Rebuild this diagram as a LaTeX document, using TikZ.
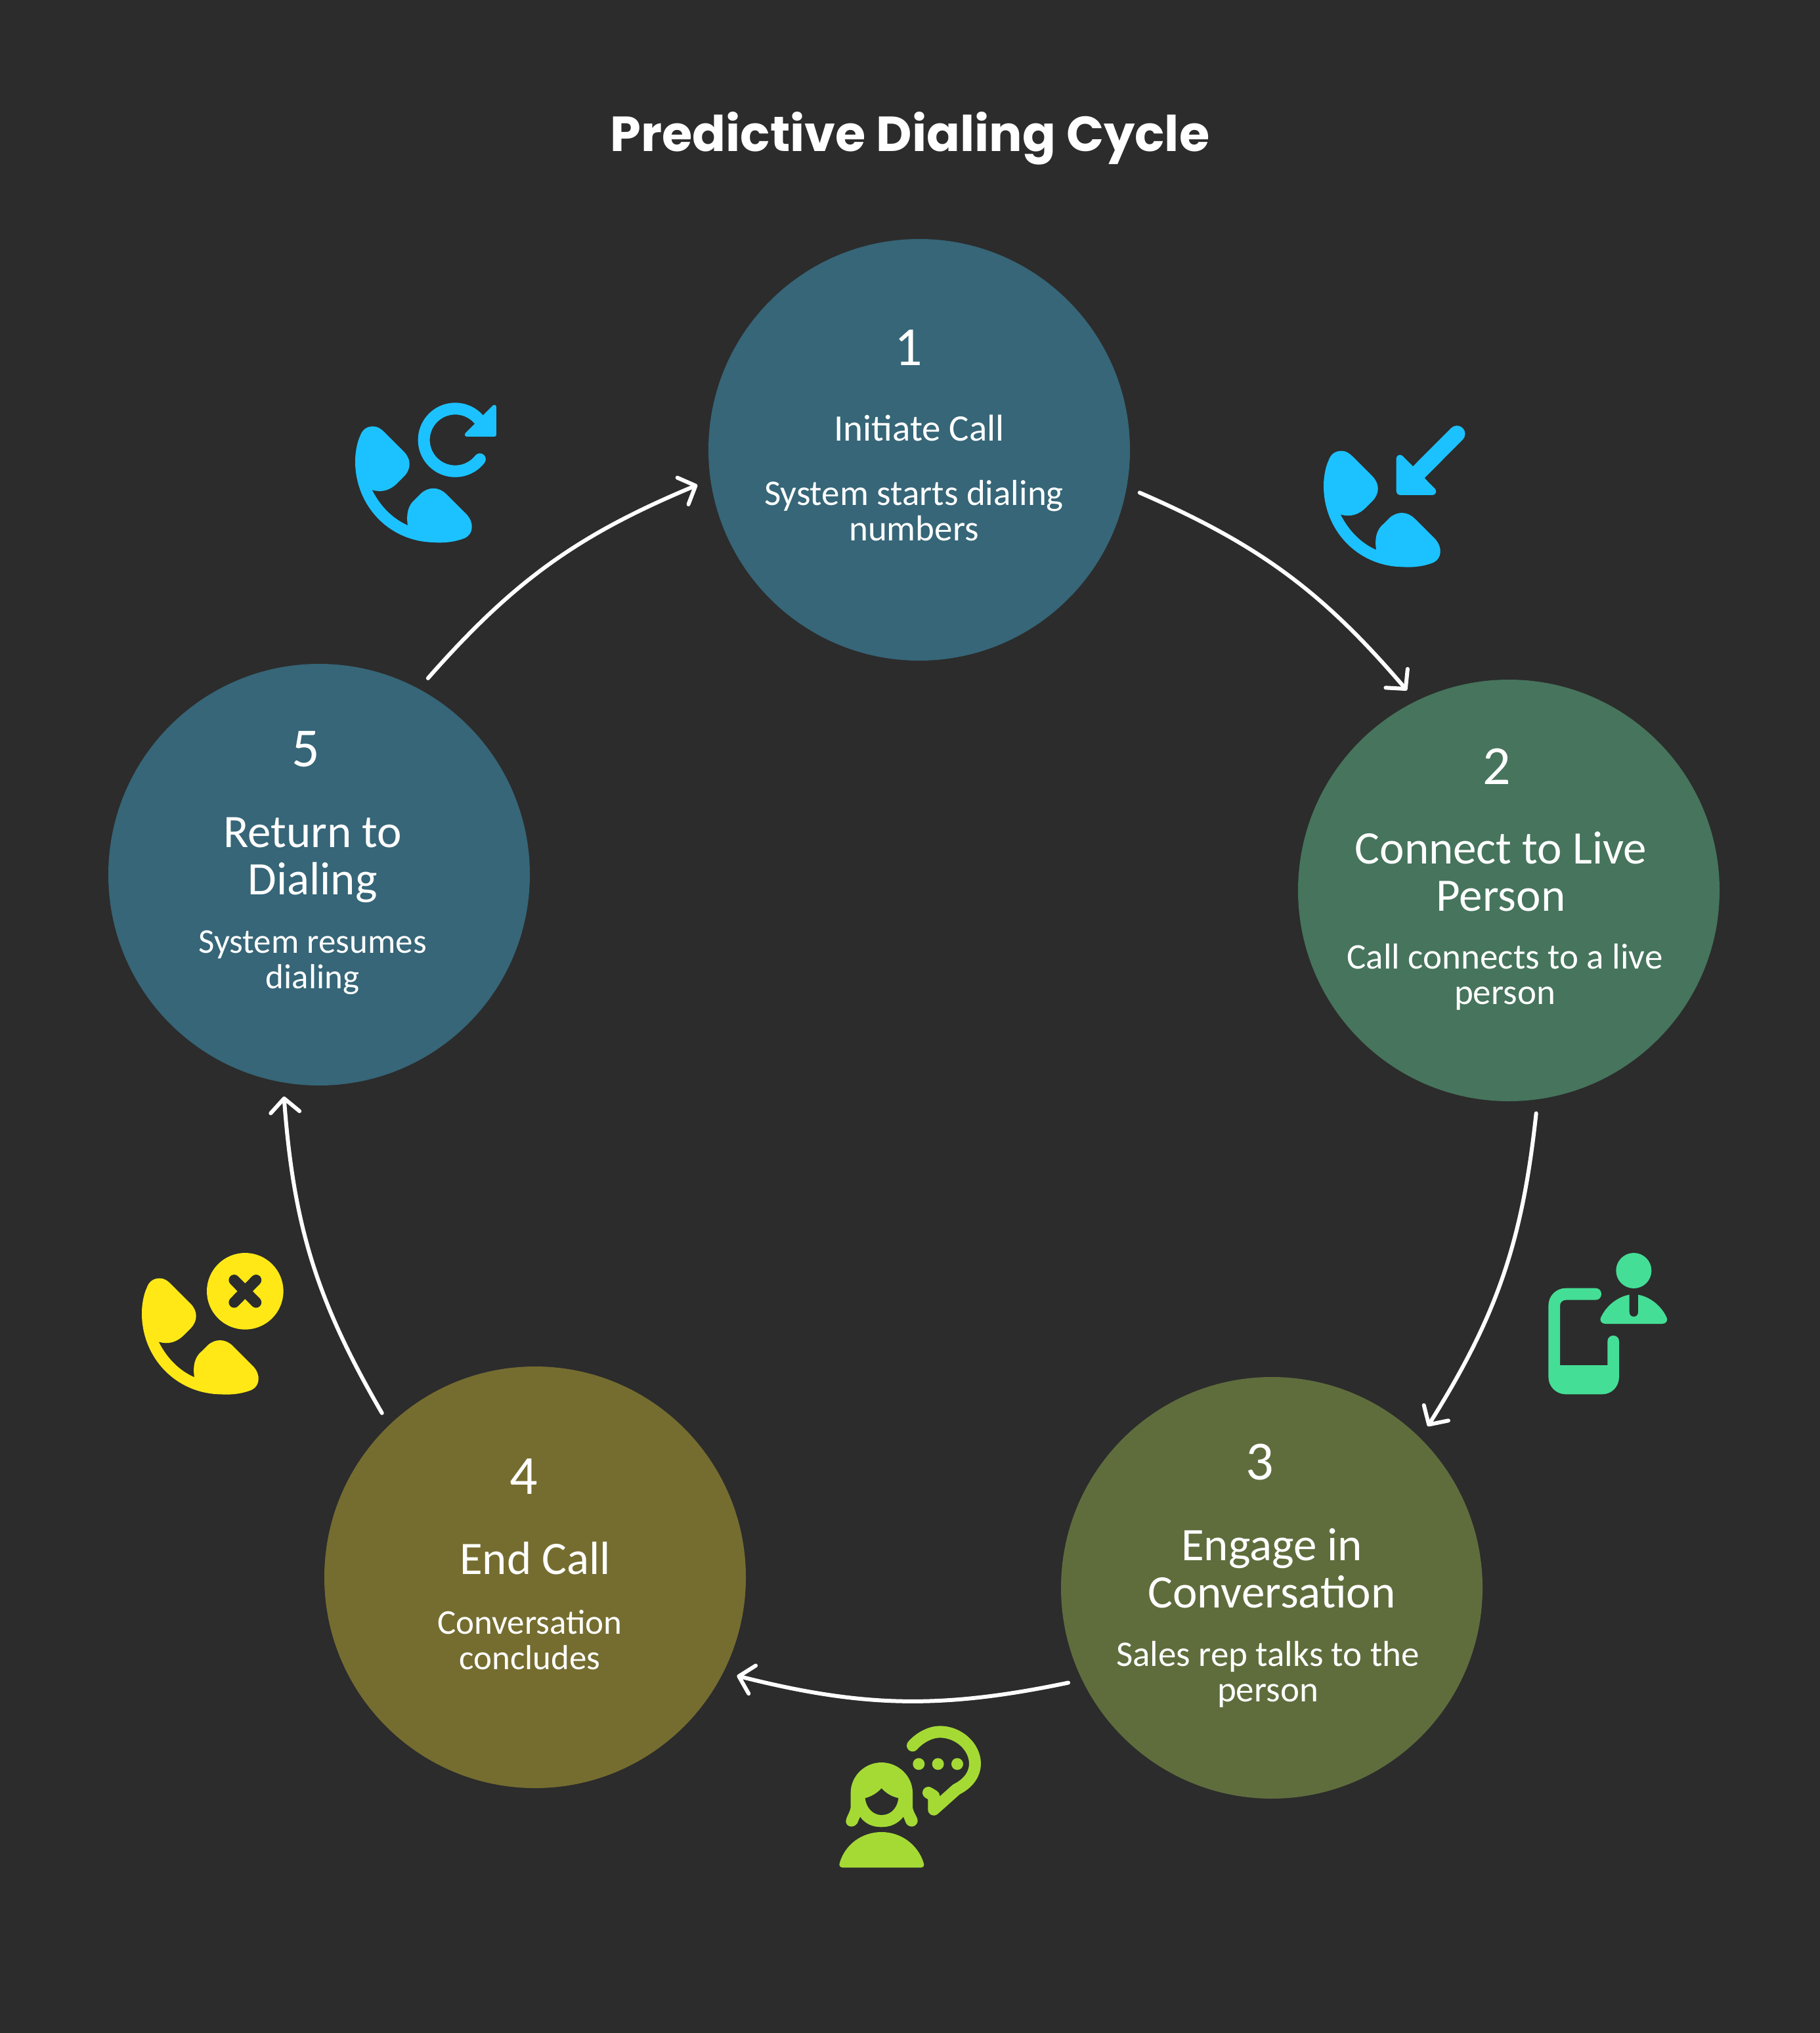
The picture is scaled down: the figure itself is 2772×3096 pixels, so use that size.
\documentclass[tikz,border=0pt]{standalone}
\usepackage{fontspec}
\setmainfont{Carlito}
\newfontfamily\titlefont{Poppins}
\usetikzlibrary{arrows.meta}
\definecolor{bgc}{HTML}{2C2C2C}
\definecolor{cblue}{HTML}{366678}
\definecolor{cgreen}{HTML}{46745C}
\definecolor{colive}{HTML}{5F6D3D}
\definecolor{cgold}{HTML}{756D30}
\definecolor{iblue}{HTML}{1CC2FF}
\definecolor{igreen}{HTML}{45DE96}
\definecolor{ilime}{HTML}{A5DA35}
\definecolor{iyellow}{HTML}{FFE816}
\tikzset{
  stage/.style={circle,minimum size=642pt,inner sep=0pt,outer sep=21pt,fill=#1},
  numtxt/.style={text=white,font=\fontsize{84}{84}\selectfont,inner sep=0pt},
  headtxt/.style={text=white,align=center,font=\fontsize{71}{72}\selectfont,inner sep=0pt},
  smallhead/.style={text=white,align=center,font=\fontsize{57}{54}\selectfont,inner sep=0pt},
  desctxt/.style={text=white,align=center,font=\fontsize{55}{54}\selectfont,inner sep=0pt},
  desctight/.style={text=white,align=center,font=\fontsize{53}{54}\selectfont,inner sep=0pt},
  flow/.style={white,line width=6pt,line cap=round,-{Straight Barb[length=21pt,width=44pt,line width=6pt,round]}},
}
\newcommand{\handset}[1]{%
  \fill[#1] (130,170) .. controls (150,170) and (165,180) .. (180,195) -- (270,285)
   .. controls (305,320) and (305,365) .. (270,400) -- (240,430)
   .. controls (210,460) and (170,475) .. (125,460)
   .. controls (160,530) and (215,590) .. (288,622)
   .. controls (280,570) and (290,530) .. (320,505) -- (350,475)
   .. controls (385,445) and (430,445) .. (465,480) -- (560,575)
   .. controls (590,610) and (590,660) .. (550,680)
   .. controls (500,700) and (450,703) .. (405,700)
   .. controls (200,695) and (48,530) .. (48,330)
   .. controls (48,280) and (60,235) .. (70,215)
   .. controls (80,185) and (100,170) .. (130,170) -- cycle;}
\begin{document}
\begin{tikzpicture}[x=1pt,y=-1pt]
\useasboundingbox (0,0) rectangle (2772,3096);
\fill[bgc] (0,0) rectangle (2772,3096);

\node[text=white,inner sep=0pt,font=\titlefont\bfseries\fontsize{75}{75}\selectfont] (title) at (1386,211) {Predictive Dialing Cycle};

\node[stage=cblue] (c1) at (1400,685) {};
\node[stage=cgreen] (c2) at (2298,1356) {};
\node[stage=colive] (c3) at (1937,2418) {};
\node[stage=cgold] (c4) at (815,2402) {};
\node[stage=cblue] (c5) at (486,1332) {};

\node[numtxt] (n1) at (1384,529) {1};
\node[smallhead] (h1) at (1400,652) {Initiate Call};
\node[desctxt] (d1) at (1392,778) {System starts dialing\\numbers};

\node[numtxt] (n2) at (2280,1167) {2};
\node[headtxt] (h2) at (2286,1327) {Connect to Live\\Person};
\node[desctxt] (d2) at (2292,1488) {Call connects to a live\\person};

\node[numtxt] (n3) at (1919,2227) {3};
\node[headtxt] (h3) at (1937,2388) {Engage in\\Conversation};
\node[desctxt] (d3) at (1931,2550) {Sales rep talks to the\\person};

\node[numtxt] (n4) at (798,2249) {4};
\node[headtxt] (h4) at (815,2373) {End Call};
\node[desctight] (d4) at (807,2497) {Conversation\\concludes};

\node[numtxt] (n5) at (466,1141) {5};
\node[headtxt] (h5) at (476,1310) {Return to\\Dialing};
\node[desctight] (d5) at (476,1466) {System resumes\\dialing};

\draw[flow] (c1.-11) to[bend left=13] (c2.117.3);
\draw[flow] (c2.-83.4) to[bend left=13] (c3.46.5);
\draw[flow] (c3.-155.3) to[bend left=13] (c4.-26.4);
\draw[flow] (c4.133) to[bend left=13] (c5.-99);
\draw[flow] (c5.61.5) to[bend left=13] (c1.189);

% icon above connector 5->1
\begin{scope}[shift={(525,592.67)},x=.3333pt,y=-.3333pt]
  \handset{iblue}
\end{scope}
\begin{scope}[shift={(500,580)},x=.3333pt,y=-.3333pt]
  \draw[iblue,line width=18pt,line cap=round] plot[domain=38:322,samples=50,smooth] ({580+143*cos(\x)},{270+143*sin(\x)});
  \filldraw[iblue,line width=6pt,line join=round] (759,118) -- (759,246) -- (632,246) -- cycle;
\end{scope}

% icon incoming
\begin{scope}[shift={(2000,630)},x=.3333pt,y=-.3333pt]
  \handset{iblue}
\end{scope}
\begin{scope}[shift={(1990,620)},x=.3333pt,y=-.3333pt]
  \draw[iblue,line width=25pt,line cap=round] (687,122) -- (480,330);
  \filldraw[iblue,line width=11.3pt,line join=round] (427,235) -- (427,385) -- (575,385) -- cycle;
\end{scope}

% icon person and phone
\begin{scope}[shift={(2330,1880)},x=.3333pt,y=-.3333pt]
  \fill[igreen] (475,165) circle[radius=27pt];
  \fill[igreen] (345,408) -- (605,408) .. controls (625,408) and (632,390) .. (625,378)
    .. controls (600,325) and (550,285) .. (495,275) -- (495,355)
    .. controls (495,382) and (455,382) .. (455,355) -- (455,275)
    .. controls (400,285) and (350,325) .. (325,378)
    .. controls (318,390) and (325,408) .. (345,408) -- cycle;
  \fill[igreen] (300,245) -- (165,245) .. controls (120,245) and (85,280) .. (85,325)
    -- (85,650) .. controls (85,695) and (120,730) .. (165,730)
    -- (330,730) .. controls (375,730) and (408,695) .. (408,650)
    -- (408,488) .. controls (408,453) and (355,453) .. (355,488)
    -- (355,597) -- (138,597) -- (138,325)
    .. controls (138,310) and (150,299) .. (165,299) -- (300,299)
    .. controls (336,299) and (336,245) .. (300,245) -- cycle;
\end{scope}

% icon woman with speech bubble
\begin{scope}[shift={(1260,2610)},x=.3333pt,y=-.3333pt]
  \fill[ilime] (70,702) -- (428,702) .. controls (440,702) and (445,692) .. (440,680)
    .. controls (415,600) and (340,540) .. (248,540)
    .. controls (155,540) and (80,600) .. (57,680)
    .. controls (52,692) and (58,702) .. (70,702) -- cycle;
  \fill[ilime] (107,360) .. controls (107,285) and (170,222) .. (248,222)
    .. controls (325,222) and (390,285) .. (390,360) -- (390,420)
    .. controls (390,445) and (405,460) .. (412,480)
    .. controls (420,510) and (380,530) .. (360,500) -- (348,470)
    .. controls (320,505) and (285,517) .. (248,517)
    .. controls (210,517) and (175,505) .. (150,470) -- (137,500)
    .. controls (115,530) and (75,510) .. (87,480)
    .. controls (95,455) and (107,445) .. (107,420) -- cycle;
  \fill[bgc] (248,340) .. controls (225,365) and (200,378) .. (173,385)
    .. controls (178,430) and (210,462) .. (248,462)
    .. controls (290,462) and (320,430) .. (325,385)
    .. controls (295,378) and (270,365) .. (248,340) -- cycle;
  \draw[ilime,line width=18pt,line cap=round,line join=round] (390,145)
    .. controls (420,110) and (470,82) .. (515,82)
    .. controls (600,82) and (675,150) .. (675,228)
    .. controls (675,270) and (650,315) .. (590,345)
    -- (487,437) -- (487,375) -- (462,360);
  \fill[ilime] (418,229) circle[radius=9pt] (506,229) circle[radius=9pt] (594,229) circle[radius=9pt];
\end{scope}

% icon end call
\begin{scope}[shift={(200,1890)},x=.3333pt,y=-.3333pt]
  \handset{iyellow}
  \fill[iyellow] (520,229) circle[radius=58.3pt];
  \draw[bgc,line width=16.5pt,line cap=round] (470,178) -- (570,280) (570,178) -- (470,280);
\end{scope}
\end{tikzpicture}
\end{document}
